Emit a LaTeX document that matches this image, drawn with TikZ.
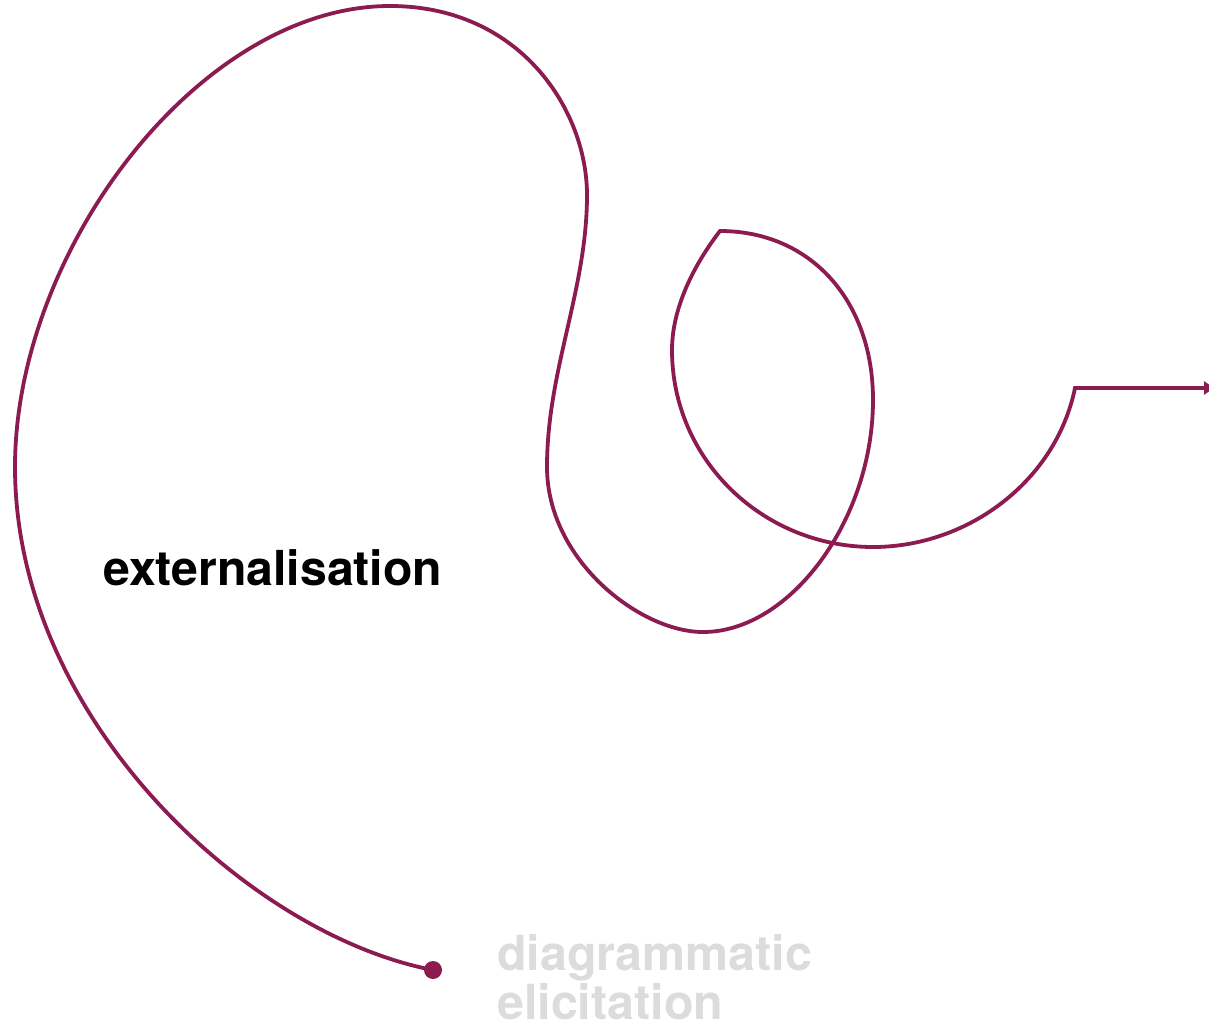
\documentclass[tikz,border=0pt]{standalone}
\usepackage{fontspec}
\setmainfont{TeX Gyre Heros}
\usetikzlibrary{arrows.meta}
\definecolor{plum}{RGB}{139,27,80}
\definecolor{lightgrey}{RGB}{220,220,220}
\tikzset{
  wire/.style={draw=plum, line width=3.8pt, line join=miter},
  startdot/.style={circle, fill=plum, inner sep=0pt, minimum size=18pt},
  darklabel/.style={font=\fontsize{48.2}{50}\selectfont\bfseries, text=black, inner sep=0pt, anchor=base west},
  greylabel/.style={font=\fontsize{48.4}{50}\selectfont\bfseries, text=lightgrey, inner sep=0pt, anchor=base west}
}
\begin{document}
\begin{tikzpicture}[x=1pt,y=-1pt]
\useasboundingbox (0,0) rectangle (1209,1028);
\coordinate (cornerA) at (720,231);
\coordinate (cornerB) at (1075,388);
\coordinate (tip) at (1214,388);
\node[startdot] (start) at (433,970) {};
\draw[wire, -{Triangle[length=10pt,width=13pt]}]
  (start.center)
  .. controls (250,935) and (15,720) .. (15,467)
  .. controls (15,250) and (200,6) .. (390,6)
  .. controls (520,6) and (587,110) .. (587,195)
  .. controls (587,290) and (547,370) .. (547,467)
  .. controls (547,560) and (640,632) .. (703,632)
  .. controls (790,632) and (873,520) .. (873,400)
  .. controls (873,300) and (810,231) .. (cornerA)
  .. controls (696,262) and (672,306) .. (672,350)
  .. controls (672,460) and (763,547) .. (873,547)
  .. controls (968,547) and (1056,481) .. (cornerB)
  -- (tip);
\node[darklabel] (ext) at (103,585) {externalisation};
\node[greylabel] (diag1) at (497,970) {diagrammatic};
\node[greylabel] (diag2) at (497,1019) {elicitation};
\end{tikzpicture}
\end{document}
